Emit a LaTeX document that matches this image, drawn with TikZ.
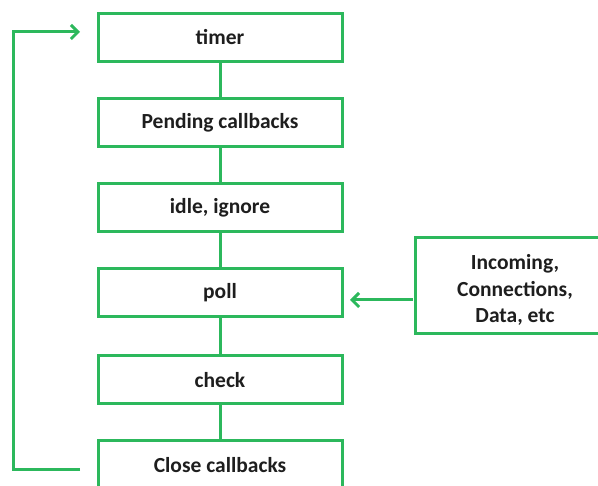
\documentclass[tikz,border=0pt]{standalone}
\usepackage{fontspec}
\setmainfont{Carlito}
\usetikzlibrary{arrows.meta}
\definecolor{gfg}{RGB}{44,184,92}
\definecolor{txt}{RGB}{30,30,30}
\tikzset{
  stagefont/.style={font=\fontsize{21.5}{26.5}\selectfont\bfseries, text=txt},
  stage/.style={draw=gfg, line width=3pt, minimum width=244pt, minimum height=48pt, inner sep=0pt,
    stagefont, fill=white},
  link/.style={draw=gfg, line width=3pt},
  arr/.style={draw=gfg, line width=3pt, -{Straight Barb[length=7pt,width=14pt,line width=3pt]}}
}
\begin{document}
\begin{tikzpicture}[x=1pt,y=-1pt]
\clip (0,0) rectangle (598,486);
\useasboundingbox (0,0) rectangle (598,486);
\node[stage] (timer) at (220,37.5) {timer};
\node[stage] (pend) at (220,123) {Pending callbacks};
\node[stage] (idle) at (220,208) {idle, ignore};
\node[stage] (poll) at (220,293) {poll};
\node[stage] (check) at (220,380) {check};
\node[stage] (close) at (220,465) {Close callbacks};
\node[stage, minimum width=200pt, minimum height=96pt] (inc) at (515,286) {};
\node[stagefont, align=center, inner sep=0pt] (inclbl) at (515,290) {Incoming,\\Connections,\\Data, etc};
\draw[link] (timer) -- (pend);
\draw[link] (pend) -- (idle);
\draw[link] (idle) -- (poll);
\draw[link] (poll) -- (check);
\draw[link] (check) -- (close);
\coordinate (incin) at (413,300);
\coordinate (pollin) at (350,300);
\draw[arr] (incin) -- (pollin);
\coordinate (lbot) at (80,470);
\coordinate (ltop) at (80,32);
\draw[arr] (lbot) -- (13,470) -- (13,32) -- (ltop);
\end{tikzpicture}
\end{document}
